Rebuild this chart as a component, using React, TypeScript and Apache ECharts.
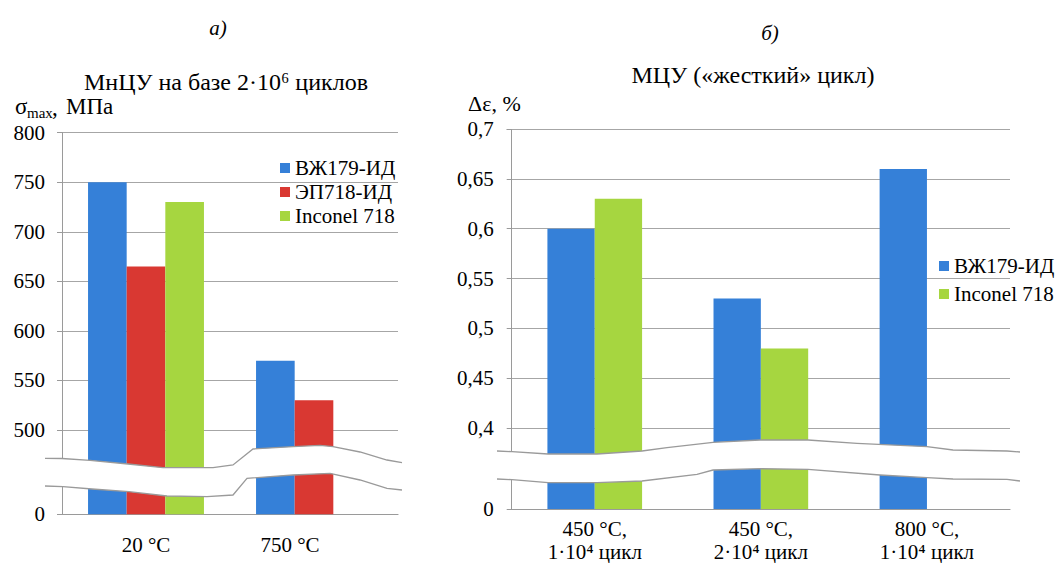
import React, { useEffect, useRef } from 'react';
import * as echarts from 'echarts';

// ---------- data ----------
const seriesNames = ['ВЖ179-ИД', 'ЭП718-ИД', 'Inconel 718'];

const leftCategories = ['20 °C', '750 °C'];
const leftVZh179 = [750, 570];
const leftEP718 = [665, 530];
const leftInconel = [730, null];

const rightCategories = ['450 °C,\n1·10⁴ цикл', '450 °C,\n2·10⁴ цикл', '800 °C,\n1·10⁴ цикл'];
const rightVZh179 = [0.6, 0.53, 0.66];
const rightInconel = [0.63, 0.48, null];

// ---------- styles ----------
const FONT = 'Liberation Serif';
const FS = 21;
const BLUE = '#3580d8';
const RED = '#d93832';
const GREEN = '#a6d640';
const GRID_COLOR = '#a6a6a6';
const AXIS_COLOR = '#9a9a9a';

// decorative break-band profiles (pixel layout)
const leftUpper = [[45, 458.3], [62, 458.5], [90, 460.3], [128, 464], [163, 467.7], [213, 467.7], [233, 465], [253, 449], [293, 446.7], [320, 445.3], [333, 446.7], [360, 452], [387, 460], [402, 462.7]];
const leftLower = [[45, 486], [63, 486.7], [92, 489], [129, 491.7], [167, 496], [207, 496.7], [233, 495], [247, 478.3], [293, 475], [330, 473.3], [360, 480], [387, 488.3], [402, 490]];
const rightUpper = [[497, 451], [512, 451.7], [548, 454], [597, 454], [642, 451], [667, 447.7], [713, 442.3], [760, 440], [808, 440], [857, 443.3], [927, 446.7], [953, 450], [1007, 451], [1020, 452]];
const rightLower = [[497, 479], [512, 479.7], [548, 482.7], [597, 482.7], [642, 481], [697, 474.3], [713, 470], [760, 468.7], [808, 469.3], [880, 475], [927, 477.7], [953, 479], [1007, 479.3], [1020, 481]];

function band(upper: number[][], lower: number[][]) {
  return [
    { type: 'polygon', z: 100, shape: { points: [...upper, ...lower.slice().reverse()] }, style: { fill: '#fff', stroke: null } },
    { type: 'polyline', z: 101, shape: { points: upper }, style: { stroke: AXIS_COLOR, lineWidth: 1.3, fill: null } },
    { type: 'polyline', z: 101, shape: { points: lower }, style: { stroke: AXIS_COLOR, lineWidth: 1.3, fill: null } },
  ];
}

function txt(text: string, x: number, y: number, extra: any = {}) {
  return {
    type: 'text', x, y, z: 110,
    style: {
      text, fill: '#000',
      fontFamily: FONT, fontSize: extra.size || FS, fontStyle: extra.italic ? 'italic' : 'normal',
      align: extra.align || 'center', verticalAlign: 'middle',
    },
  };
}

const fmtLeft = (v: number) => (v >= 500 && Math.abs(v % 50) < 1e-6 ? String(v) : '');
const fmtRight = (v: number) => {
  const k = v / 0.05;
  if (Math.abs(k - Math.round(k)) > 1e-6) return '';
  if (v < 0.4 - 1e-9) return '';
  return String(+v.toFixed(3)).replace('.', ',');
};
const fmtZero = (v: number) => (Math.abs(v) < 1e-9 ? '0' : '');

export default function App() {
  const ref = useRef<HTMLDivElement>(null);
  useEffect(() => {
    if (!ref.current) return;
    const chart = echarts.init(ref.current, undefined, { renderer: 'svg' });
    const yCommon = {
      type: 'value',
      position: 'left',
      axisLine: { show: true, lineStyle: { color: AXIS_COLOR } },
      axisTick: { show: true, length: 5, lineStyle: { color: AXIS_COLOR } },
      splitLine: { show: true, lineStyle: { color: GRID_COLOR, width: 1.2 } },
      breakArea: { show: false },
    };
    const yZero = {
      type: 'value',
      position: 'left',
      axisLine: { show: false },
      axisTick: { show: true, length: 5, lineStyle: { color: AXIS_COLOR } },
      splitLine: { show: false },
    };
    const xCommon = {
      type: 'category',
      axisLine: { show: true, lineStyle: { color: AXIS_COLOR, width: 1.2 } },
      axisTick: { show: false },
    };
    const legendCommon = {
      orient: 'vertical',
      icon: 'rect',
      itemWidth: 10,
      itemHeight: 10,
      padding: 0,
      selectedMode: false,
      textStyle: { fontFamily: FONT, fontSize: FS, color: '#000', lineHeight: 22 },
    };
    const option: any = {
      animation: false,
      textStyle: { fontFamily: FONT },
      grid: [
        { left: 62, top: 132.7, width: 336, height: 381.6 },
        { left: 511.7, top: 129, width: 498.3, height: 383.3 },
      ],
      xAxis: [
        {
          ...xCommon, gridIndex: 0, data: leftCategories,
          axisLabel: {
            margin: 20, fontFamily: FONT, fontSize: FS, color: '#000',
            formatter: (v: string) => (v === '750 °C' ? `{s|${v}}` : v),
            rich: { s: { fontFamily: FONT, fontSize: FS, color: '#000', padding: [0, 48, 0, 0] } },
          },
        },
        {
          ...xCommon, gridIndex: 1, data: rightCategories,
          axisLabel: { margin: 8, fontFamily: FONT, fontSize: FS, color: '#000', lineHeight: 23 },
        },
      ],
      yAxis: [
        {
          ...yCommon, gridIndex: 0, min: 0, max: 800, interval: 50,
          breaks: [{ start: 28, end: 450, gap: 7 }],
          axisLabel: { margin: 17, fontFamily: FONT, fontSize: FS, color: '#000', formatter: fmtLeft },
        },
        {
          ...yCommon, gridIndex: 1, min: 0, max: 0.7, interval: 0.05,
          breaks: [{ start: 0.03, end: 0.35, gap: 0.001 }],
          axisLabel: { margin: 18, fontFamily: FONT, fontSize: FS, color: '#000', formatter: fmtRight },
        },
        {
          ...yZero, gridIndex: 0, min: 0, max: 800, interval: 800,
          axisLabel: { margin: 17, fontFamily: FONT, fontSize: FS, color: '#000', formatter: fmtZero },
        },
        {
          ...yZero, gridIndex: 1, min: 0, max: 0.7, interval: 0.7,
          axisLabel: { margin: 18, fontFamily: FONT, fontSize: FS, color: '#000', formatter: fmtZero },
        },
      ],
      legend: [
        { ...legendCommon, data: seriesNames, left: 280, top: 157, itemGap: 2, itemTextGap: 3 },
        { ...legendCommon, data: [seriesNames[0], seriesNames[2]], left: 939, top: 255, itemGap: 6, itemTextGap: 7 },
      ],
      series: [
        { name: seriesNames[0], type: 'bar', xAxisIndex: 0, yAxisIndex: 0, data: leftVZh179, barWidth: '23%', barGap: '0%', itemStyle: { color: BLUE } },
        { name: seriesNames[1], type: 'bar', xAxisIndex: 0, yAxisIndex: 0, data: leftEP718, barWidth: '23%', barGap: '0%', itemStyle: { color: RED } },
        { name: seriesNames[2], type: 'bar', xAxisIndex: 0, yAxisIndex: 0, data: leftInconel, barWidth: '23%', barGap: '0%', itemStyle: { color: GREEN } },
        { name: seriesNames[0], type: 'bar', xAxisIndex: 1, yAxisIndex: 1, data: rightVZh179, barWidth: '28.5%', barGap: '0%', itemStyle: { color: BLUE } },
        { name: seriesNames[2], type: 'bar', xAxisIndex: 1, yAxisIndex: 1, data: rightInconel, barWidth: '28.5%', barGap: '0%', itemStyle: { color: GREEN } },
      ],
      graphic: [
        ...band(leftUpper, leftLower),
        ...band(rightUpper, rightLower),
        txt('а)', 218, 28, { italic: true }),
        txt('б)', 770, 33, { italic: true }),
        txt('МнЦУ на базе 2·10⁶ циклов', 226, 82, { size: 24 }),
        txt('МЦУ («жесткий» цикл)', 753, 75, { size: 24 }),
        txt('σ', 15, 106, { align: 'left', size: 23 }),
        txt('max', 27, 112.5, { align: 'left', size: 15 }),
        txt(',', 52, 107, { align: 'left', size: 23 }),
        txt('МПа', 66, 106, { align: 'left', size: 23 }),
        txt('Δε, %', 468, 103, { align: 'left', size: 22 }),
      ],
    };
    chart.setOption(option);
    return () => chart.dispose();
  }, []);
  return <div ref={ref} style={{ width: 1059, height: 563, position: 'absolute', left: 0, top: 0 }} />;
}
